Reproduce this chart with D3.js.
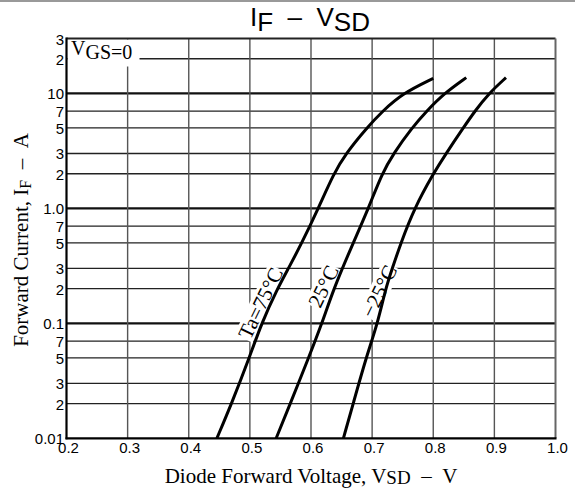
<!DOCTYPE html>
<html>
<head>
<meta charset="utf-8">
<style>
  body { margin: 0; background: #fff; }
  svg text { fill: #000; }
  .sans { font-family: "Liberation Sans", Arial, sans-serif; }
  .serif { font-family: "Liberation Serif", "Times New Roman", serif; }
</style>
<script src="https://cdn.jsdelivr.net/npm/d3@7"></script>
</head>
<body>
<div id="chart"></div>
<script>
// Forward current values (A)
var currents75 = [0.01, 0.02, 0.05, 0.1, 0.2, 0.3, 0.5, 1.0, 2, 3, 5, 7, 10, 13.5];
var volts75    = [0.446, 0.470, 0.499, 0.519, 0.545, 0.563, 0.585, 0.612, 0.637, 0.657, 0.691, 0.717, 0.750, 0.800];
var currents25 = [0.01, 0.02, 0.05, 0.1, 0.2, 0.5, 1.0, 2, 3, 5, 7, 10, 13.7];
var volts25    = [0.543, 0.566, 0.596, 0.618, 0.637, 0.669, 0.694, 0.716, 0.735, 0.765, 0.789, 0.818, 0.854];
var currentsM25 = [0.01, 0.02, 0.05, 0.1, 0.2, 0.3, 0.5, 1.0, 2, 3, 5, 7, 10, 13.7];
var voltsM25    = [0.653, 0.669, 0.690, 0.709, 0.722, 0.733, 0.747, 0.769, 0.800, 0.821, 0.849, 0.868, 0.891, 0.919];

var curveNames = ["Ta=75°C", "25°C", "−25°C"];

// axis ticks
var xTicks = [0.2, 0.3, 0.4, 0.5, 0.6, 0.7, 0.8, 0.9, 1.0];
var xTickLabels = ["0.2", "0.3", "0.4", "0.5", "0.6", "0.7", "0.8", "0.9", "1.0"];
var yTicks = [30, 20, 10, 7, 5, 3, 2, 1, 0.7, 0.5, 0.3, 0.2, 0.1, 0.07, 0.05, 0.03, 0.02, 0.01];
var yTickLabels = ["3", "2", "10", "7", "5", "3", "2", "1.0", "7", "5", "3", "2", "0.1", "7", "5", "3", "2", "0.01"];
var decades = [10, 1, 0.1];

var W = 575, H = 494;
var pLeft = 66.5, pRight = 555.5, pTop = 38.5, pBottom = 438.3;

var x = d3.scaleLinear().domain([0.2, 1.0]).range([pLeft, pRight]);
var y = d3.scaleLog().domain([0.01, 30]).range([pBottom, pTop]);

var svg = d3.select("#chart").append("svg")
  .attr("width", W)
  .attr("height", H);

// top rule of the page
svg.append("line")
  .attr("x1", 0).attr("x2", W).attr("y1", 1).attr("y2", 1)
  .style("stroke", "#999").style("stroke-width", 2);

// title
var title = svg.append("text").attr("class", "sans")
  .attr("x", 310).attr("y", 26)
  .attr("text-anchor", "middle")
  .style("font-size", "26px");
title.append("tspan").text("I");
title.append("tspan").attr("dy", 5).text("F");
title.append("tspan").attr("dy", -5).text("\u00a0\u00a0\u2013\u00a0\u00a0V");
title.append("tspan").attr("dy", 5).text("SD");

// grid
var grid = svg.append("g");
grid.selectAll(".hgrid")
  .data(yTicks.filter(function(d) { return d < 30 && d > 0.01; }))
  .enter().append("line")
  .attr("x1", pLeft).attr("x2", pRight)
  .attr("y1", function(d) { return y(d); })
  .attr("y2", function(d) { return y(d); })
  .style("stroke", function(d) { return decades.indexOf(d) >= 0 ? "#111" : "#222"; })
  .style("stroke-width", function(d) { return decades.indexOf(d) >= 0 ? 2.2 : 1.3; });

grid.selectAll(".vgrid")
  .data(xTicks.slice(1, -1))
  .enter().append("line")
  .attr("x1", function(d) { return x(d); })
  .attr("x2", function(d) { return x(d); })
  .attr("y1", pTop).attr("y2", pBottom)
  .style("stroke", "#555")
  .style("stroke-width", 1.4);

// VGS label with white background
svg.append("rect")
  .attr("x", pLeft + 1).attr("y", pTop + 1)
  .attr("width", 72).attr("height", 27)
  .style("fill", "#fff");
var vgs = svg.append("text").attr("class", "serif")
  .attr("x", 71).attr("y", 58.5)
  .style("font-size", "20px");
vgs.append("tspan").attr("dy", -4).text("V");
vgs.append("tspan").attr("dy", 4).text("GS");
vgs.append("tspan").text("=0");

// curve labels (positioned in data units)
var labelV = [0.517, 0.620, 0.711];
var labelI = [0.15, 0.21, 0.19];
var labelAngle = -64;

var labels = svg.append("g");
curveNames.forEach(function(name, i) {
  var g = labels.append("g")
    .attr("transform", "translate(" + x(labelV[i]) + "," + y(labelI[i]) + ") rotate(" + labelAngle + ")");
  var t = g.append("text").attr("class", "serif")
    .attr("text-anchor", "middle")
    .attr("dy", "0.35em")
    .style("font-size", "21px")
    .text(name);
  var bb = t.node().getBBox();
  g.insert("rect", "text")
    .attr("x", bb.x - 1).attr("y", bb.y + 2)
    .attr("width", bb.width + 2).attr("height", bb.height - 4)
    .style("fill", "#fff");
});

// curves
var line = d3.line()
  .x(function(d) { return x(d[0]); })
  .y(function(d) { return y(d[1]); })
  .curve(d3.curveBasis);

var series = [
  d3.zip(volts75, currents75),
  d3.zip(volts25, currents25),
  d3.zip(voltsM25, currentsM25)
];

svg.append("g").selectAll("path")
  .data(series)
  .enter().append("path")
  .attr("d", line)
  .style("fill", "none")
  .style("stroke", "#000")
  .style("stroke-width", 3);

// frame
svg.append("line").attr("x1", pLeft).attr("x2", pRight).attr("y1", pTop).attr("y2", pTop)
  .style("stroke", "#222").style("stroke-width", 2);
svg.append("line").attr("x1", pRight).attr("x2", pRight).attr("y1", pTop).attr("y2", pBottom)
  .style("stroke", "#666").style("stroke-width", 2);
svg.append("line").attr("x1", pLeft).attr("x2", pLeft).attr("y1", pTop - 1).attr("y2", pBottom + 1)
  .style("stroke", "#000").style("stroke-width", 2.2);
svg.append("line").attr("x1", pLeft - 1).attr("x2", pRight + 1).attr("y1", pBottom).attr("y2", pBottom)
  .style("stroke", "#000").style("stroke-width", 2.2);

// tick labels
svg.append("g").selectAll("text")
  .data(xTicks)
  .enter().append("text")
  .attr("class", "sans")
  .attr("x", function(d) { return x(d) + 2; })
  .attr("y", 453)
  .attr("text-anchor", "middle")
  .style("font-size", "15px")
  .text(function(d, i) { return xTickLabels[i]; });

svg.append("g").selectAll("text")
  .data(yTicks)
  .enter().append("text")
  .attr("class", "sans")
  .attr("x", 64)
  .attr("y", function(d) { return y(d) + 6; })
  .attr("text-anchor", "end")
  .style("font-size", "15px")
  .text(function(d, i) { return yTickLabels[i]; });

// axis titles
var xt = svg.append("text").attr("class", "serif")
  .attr("x", 311).attr("y", 483)
  .attr("text-anchor", "middle")
  .style("font-size", "21px");
xt.append("tspan").text("Diode Forward Voltage, V");
xt.append("tspan").attr("dy", 1).style("font-size", "19px").text("SD");
xt.append("tspan").attr("dy", -1).text("\u00a0\u00a0\u2013\u00a0\u00a0V");

var yt = svg.append("text").attr("class", "serif")
  .attr("transform", "translate(28,240) rotate(-90)")
  .attr("text-anchor", "middle")
  .style("font-size", "21px");
yt.append("tspan").text("Forward Current, I");
yt.append("tspan").attr("dy", 3).style("font-size", "16px").text("F");
yt.append("tspan").attr("dy", -3).text("\u00a0\u00a0\u2013\u00a0\u00a0A");
</script>
</body>
</html>
